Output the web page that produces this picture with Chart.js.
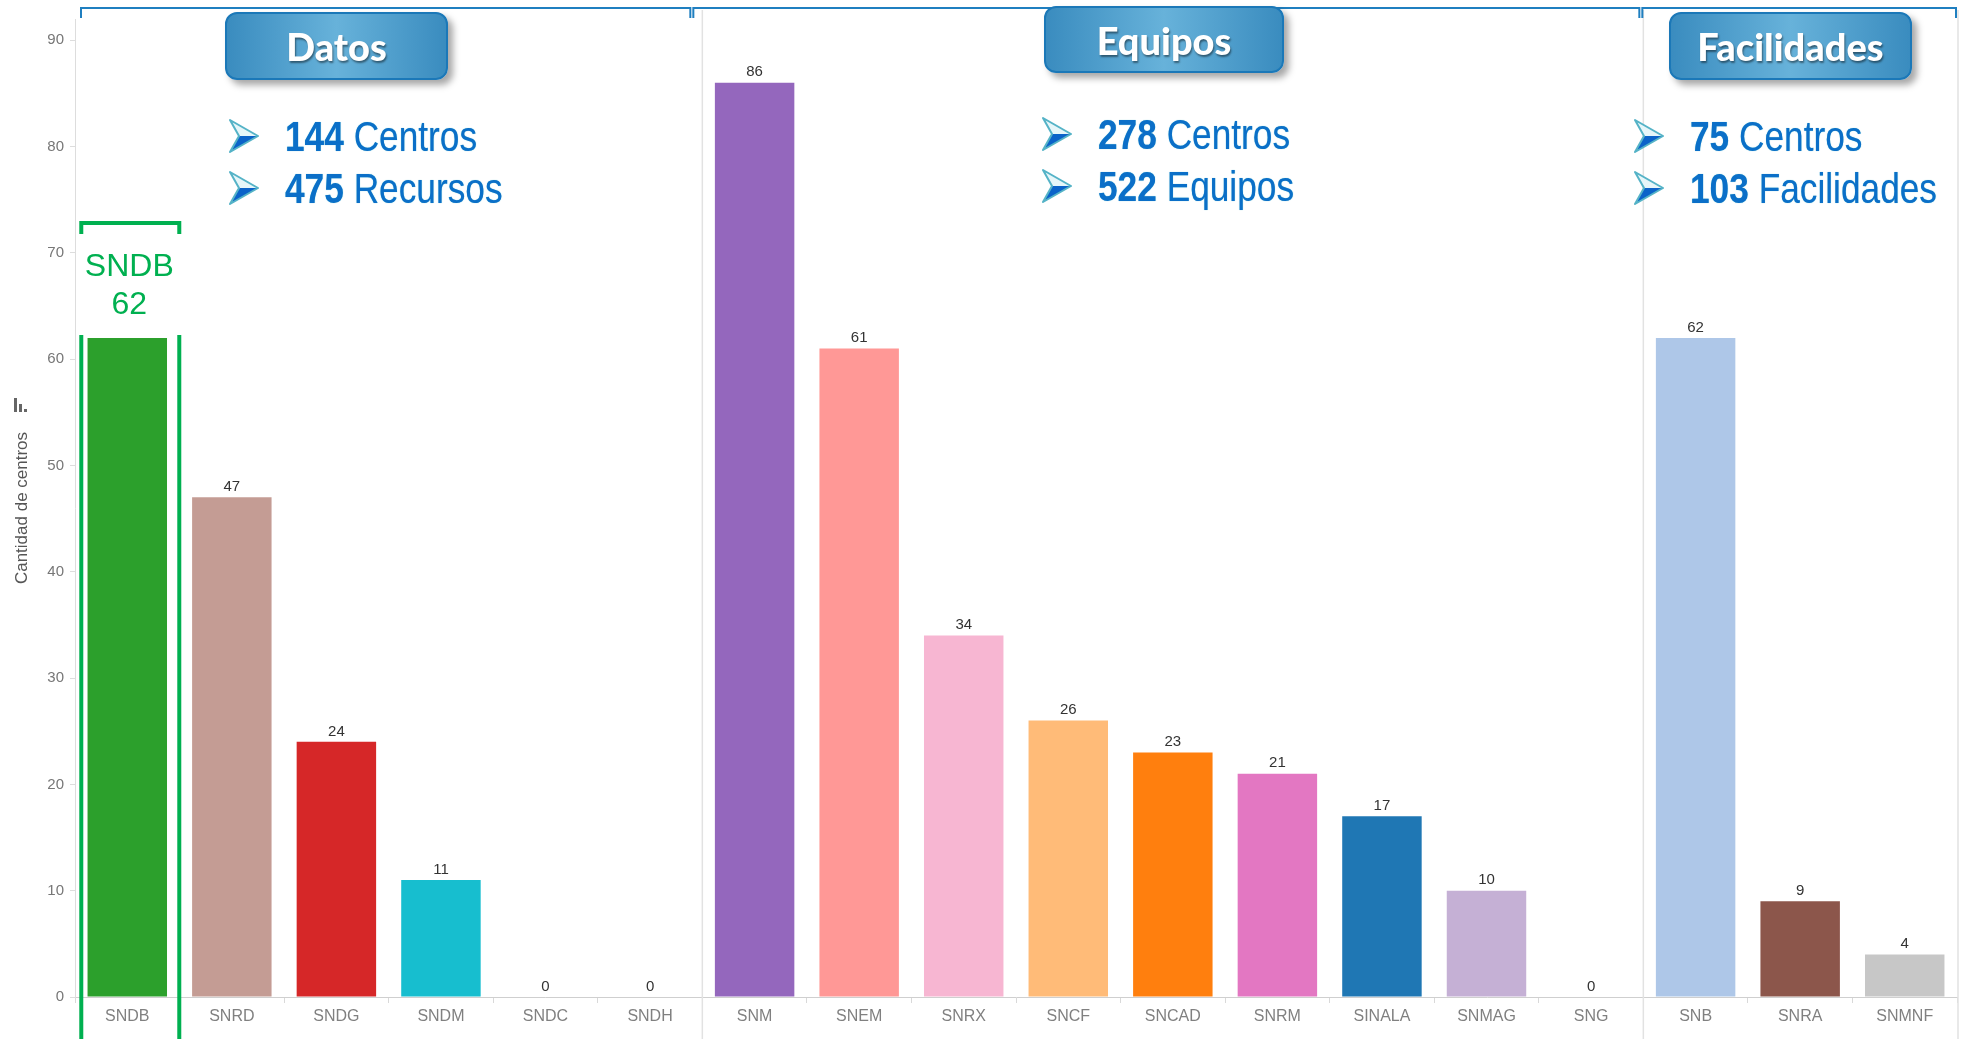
<!DOCTYPE html>
<html>
<head>
<meta charset="utf-8">
<script src="https://cdn.jsdelivr.net/npm/chart.js@4/dist/chart.umd.min.js"></script>
<style>
  html, body { margin: 0; padding: 0; background: #fff; }
  #wrap { position: relative; width: 1962px; height: 1039px; overflow: hidden; }
  canvas { position: absolute; left: 0; top: 0; }
  .box {
    position: absolute; box-sizing: border-box;
    border: 2px solid #1b78b8; border-radius: 12px;
    background: linear-gradient(to right, #3a8cbf 0%, #67b2da 50%, #3a8cbf 100%);
    box-shadow: 5px 5px 7px rgba(0,0,0,0.35);
    color: #fff; font-family: Lato, "Open Sans", sans-serif; font-weight: 900;
    font-size: 38px; display: flex; align-items: center; justify-content: center;
    text-shadow: 1px 2px 2px rgba(0,0,0,0.45);
  }
  .bullet { position: absolute; height: 46px; white-space: nowrap; }
  .bullet svg { position: absolute; left: 0; top: 6px; }
  .bullet span.txt {
    position: absolute; top: 0; line-height: 46px;
    font-family: "Liberation Sans", Arial, sans-serif; font-size: 43px;
    color: #0b6fc8; transform: scaleX(0.82); transform-origin: left center;
    text-shadow: 0 0 1px #5fc0cf;
  }
  .bullet b { font-weight: bold; }
</style>
</head>
<body>
<div id="wrap">
  <canvas id="chart" width="1962" height="1039"></canvas>
</div>
<script>
const categories = ['SNDB', 'SNRD', 'SNDG', 'SNDM', 'SNDC', 'SNDH', 'SNM', 'SNEM', 'SNRX',
  'SNCF', 'SNCAD', 'SNRM', 'SINALA', 'SNMAG', 'SNG', 'SNB', 'SNRA', 'SNMNF'];
const values = [62, 47, 24, 11, 0, 0, 86, 61, 34, 26, 23, 21, 17, 10, 0, 62, 9, 4];
const barColors = ['#2ca02c', '#c49c94', '#d62728', '#17becf', '#9edae5', '#dbdb8d', '#9467bd',
  '#ff9896', '#f7b6d2', '#ffbb78', '#ff7f0e', '#e377c2', '#1f77b4', '#c5b0d5', '#98df8a',
  '#aec7e8', '#8c564b', '#c7c7c7'];

// group ranges (first / last category index)
const groupNames = ['Datos', 'Equipos', 'Facilidades'];
const groupStart = [0, 6, 15];
const groupEnd = [5, 14, 17];
const groupNumbers1 = ['144', '278', '75'];
const groupWords1 = ['Centros', 'Centros', 'Centros'];
const groupNumbers2 = ['475', '522', '103'];
const groupWords2 = ['Recursos', 'Equipos', 'Facilidades'];

// overlay boxes and bullet lists
const boxPos = [[225, 12, 223, 68], [1044, 6, 240, 67], [1669, 12, 243, 68]];
const bulletX = [229, 1042, 1634];
const bulletY = [113, 111];
const wrap = document.getElementById('wrap');
const arrowSvg = `<svg width="30" height="34" viewBox="0 0 30 34">
  <defs><linearGradient id="ag" x1="0" y1="0" x2="0" y2="1">
    <stop offset="0.5" stop-color="#e6f6f9"/><stop offset="0.5" stop-color="#0b63c9"/></linearGradient></defs>
  <polygon points="1,1 29,17 1,33 10,17" fill="url(#ag)" stroke="#55b3c7" stroke-width="2" stroke-linejoin="round"/></svg>`;
groupNames.forEach((name, i) => {
  const b = document.createElement('div');
  b.className = 'box';
  const [l, t, w, h] = boxPos[i];
  b.style.cssText = `left:${l}px;top:${t}px;width:${w}px;height:${h}px;`;
  b.textContent = name;
  wrap.appendChild(b);
  [[groupNumbers1[i], groupWords1[i]], [groupNumbers2[i], groupWords2[i]]].forEach((ln, j) => {
    const d = document.createElement('div');
    d.className = 'bullet';
    d.style.cssText = `left:${bulletX[i]}px;top:${bulletY[0] + j * 52 - (i === 1 ? 2 : 0)}px;`;
    d.innerHTML = arrowSvg + `<span class="txt" style="left:56px"><b>${ln[0]}</b> ${ln[1]}</span>`;
    wrap.appendChild(d);
  });
});

const decor = {
  id: 'decor',
  afterDraw(chart) {
    const { ctx, chartArea } = chart;
    const x = chart.scales.x, y = chart.scales.y;
    const half = (x.getPixelForValue(1) - x.getPixelForValue(0)) / 2;
    ctx.save();

    // group separators
    ctx.strokeStyle = '#e2e2e2';
    ctx.lineWidth = 1.5;
    groupStart.slice(1).forEach(s => {
      const px = x.getPixelForValue(s) - half;
      ctx.beginPath(); ctx.moveTo(px, 10); ctx.lineTo(px, 1039); ctx.stroke();
    });
    ctx.beginPath(); ctx.moveTo(chartArea.right + 1, 10); ctx.lineTo(chartArea.right + 1, 1039); ctx.stroke();

    // group brackets on top (they sit a little left of the separators)
    const shiftL = [-6, 9, 1];
    const shiftR = [12, 4, 1];
    ctx.strokeStyle = '#1f7fc0';
    ctx.lineWidth = 2;
    groupStart.forEach((s, i) => {
      const l = x.getPixelForValue(s) - half - shiftL[i];
      const r = x.getPixelForValue(groupEnd[i]) + half - shiftR[i];
      ctx.beginPath();
      ctx.moveTo(l, 18); ctx.lineTo(l, 8); ctx.lineTo(r, 8); ctx.lineTo(r, 18);
      ctx.stroke();
    });

    // small sort icon above the axis title
    ctx.fillStyle = '#666';
    ctx.fillRect(14, 398, 3, 14);
    ctx.fillRect(19, 404, 3, 8);
    ctx.fillRect(24, 409, 3, 3);

    // value labels
    ctx.fillStyle = '#333';
    ctx.font = '15px "Liberation Sans", Arial, sans-serif';
    ctx.textAlign = 'center';
    ctx.textBaseline = 'bottom';
    const meta = chart.getDatasetMeta(0);
    meta.data.forEach((bar, i) => {
      if (i === 0) return;
      ctx.fillText(String(values[i]), bar.x, bar.y - 3);
    });

    // highlight of the first category
    const cx = x.getPixelForValue(0) + 2;
    const top = y.getPixelForValue(values[0]) - 3;
    const hl = cx - 48, hr = cx + 50;
    ctx.strokeStyle = '#00b050';
    ctx.lineWidth = 4;
    ctx.beginPath();
    ctx.moveTo(hl, 234); ctx.lineTo(hl, 223); ctx.lineTo(hr, 223); ctx.lineTo(hr, 234);
    ctx.moveTo(hl, top); ctx.lineTo(hl, 1039);
    ctx.moveTo(hr, top); ctx.lineTo(hr, 1039);
    ctx.stroke();
    ctx.fillStyle = '#00b050';
    ctx.font = '32px "Liberation Sans", Arial, sans-serif';
    ctx.textBaseline = 'middle';
    ctx.fillText(categories[0], cx, 267);
    ctx.fillText(String(values[0]), cx, 305);
    ctx.restore();
  }
};

Chart.defaults.font.family = '"Liberation Sans", Arial, sans-serif';
new Chart(document.getElementById('chart'), {
  type: 'bar',
  data: {
    labels: categories,
    datasets: [{ data: values, backgroundColor: barColors, barPercentage: 0.76, categoryPercentage: 1 }]
  },
  options: {
    responsive: false,
    animation: false,
    devicePixelRatio: 1,
    layout: { padding: { top: 19, right: 5, left: 0, bottom: 0 } },
    plugins: { legend: { display: false }, tooltip: { enabled: false } },
    scales: {
      x: {
        grid: { offset: true, drawOnChartArea: false, tickLength: 6, color: '#d9d9d9' },
        border: { color: '#cfcfcf' },
        ticks: { color: '#808080', font: { size: 16 }, padding: 4, maxRotation: 0, autoSkip: false },
        afterFit(s) { s.height = 42; }
      },
      y: {
        min: 0, max: 92,
        ticks: { stepSize: 10, color: '#777', font: { size: 15 }, padding: 6 },
        afterBuildTicks(s) { s.ticks = s.ticks.filter(t => t.value % 10 === 0); },
        grid: { drawOnChartArea: false, tickLength: 5, color: '#ddd' },
        border: { color: '#ddd' },
        title: { display: true, text: 'Cantidad de centros', color: '#555', font: { size: 17 }, padding: { top: 12, bottom: 0 } },
        afterFit(s) { s.width = 75; }
      }
    }
  },
  plugins: [decor]
});
</script>
</body>
</html>
